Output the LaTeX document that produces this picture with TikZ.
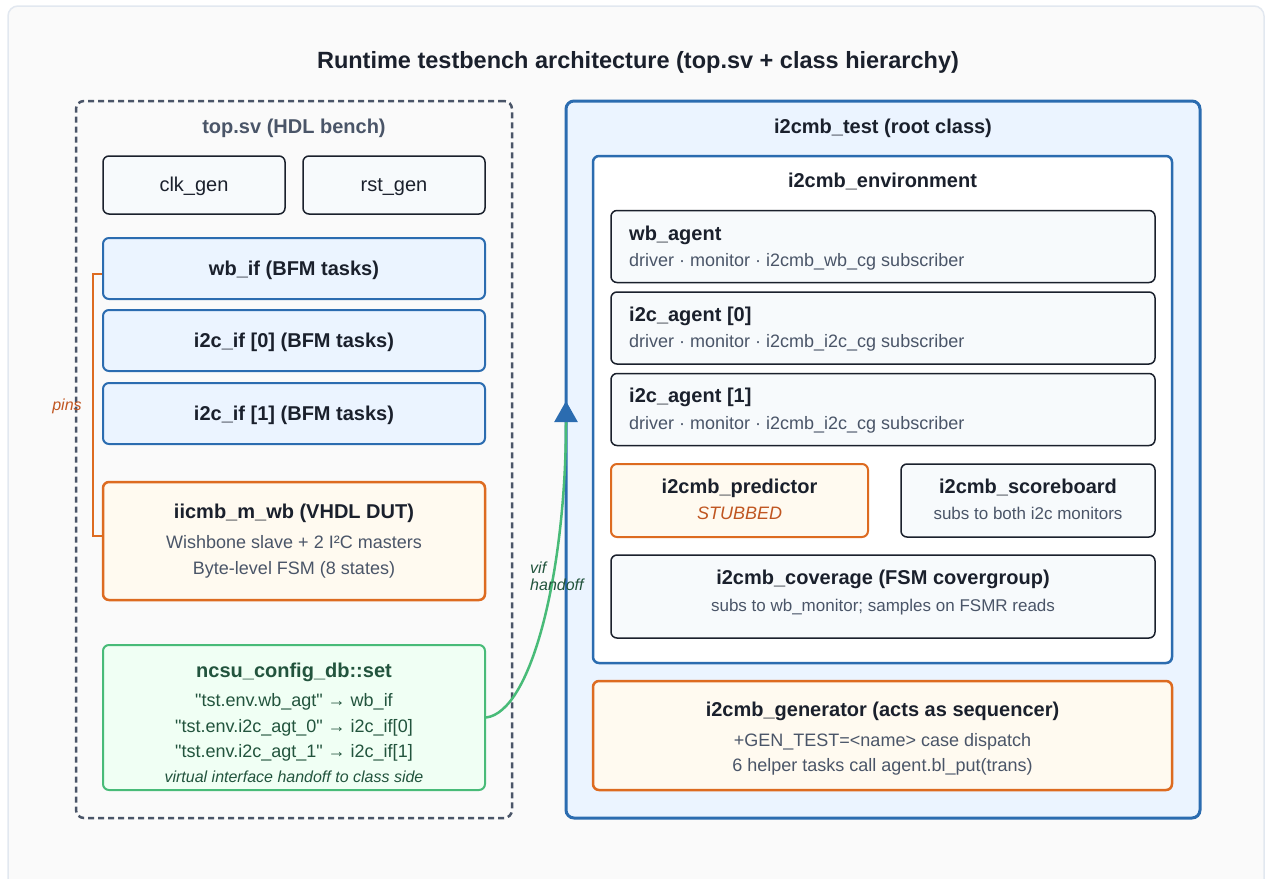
\documentclass[tikz,border=0pt]{standalone}
\usepackage{fontspec}
\setmainfont{Liberation Sans}
\usetikzlibrary{arrows.meta}
\definecolor{tbink}{HTML}{1A202C}
\definecolor{tbgray}{HTML}{4A5568}
\definecolor{tbblue}{HTML}{2B6CB0}
\definecolor{tbbluefill}{HTML}{EBF4FF}
\definecolor{tborange}{HTML}{DD6B20}
\definecolor{tborangefill}{HTML}{FFFAF0}
\definecolor{tbrust}{HTML}{C05621}
\definecolor{tbgreen}{HTML}{48BB78}
\definecolor{tbgreenfill}{HTML}{F0FFF4}
\definecolor{tbforest}{HTML}{22543D}
\definecolor{tbplain}{HTML}{F7FAFC}
\definecolor{tbcard}{HTML}{FAFAFA}
\definecolor{tbedge}{HTML}{E2E8F0}
\begin{document}
\begin{tikzpicture}
  [x=1pt,y=-1pt,every node/.style={inner sep=0pt},
   plainbox/.style={draw=tbink,fill=tbplain,line width=1.5pt,rounded corners=6pt},
   ifbox/.style={draw=tbblue,fill=tbbluefill,line width=2pt,rounded corners=6pt},
   hotbox/.style={draw=tborange,fill=tborangefill,line width=2.5pt,rounded corners=6pt},
   cfgbox/.style={draw=tbgreen,fill=tbgreenfill,line width=2pt,rounded corners=6pt},
   head/.style={font=\fontsize{20}{24}\selectfont\bfseries,text=tbink,text height=16pt,text depth=2.8pt},
   body/.style={font=\fontsize{20}{24}\selectfont,text=tbink,text height=16pt,text depth=2.8pt},
   note/.style={font=\fontsize{18}{22}\selectfont,text=tbgray,text height=14.4pt,text depth=2.5pt},
   small/.style={font=\fontsize{17}{20}\selectfont,text=tbgray,text height=13.6pt,text depth=2.4pt},
   slant/.style={font=\fontsize{16}{17}\selectfont\itshape,text height=12.8pt,text depth=2.2pt}]
  \useasboundingbox (0,0) rectangle (1265,878);
  \fill[white] (0,0) rectangle (1265,878);
  \draw[draw=tbedge,fill=tbcard,line width=1.5pt,rounded corners=10pt] (8,6) rectangle (1264,890);
  \node[font=\fontsize{23.5}{28}\selectfont\bfseries,text=tbink,text height=18.8pt,text depth=3.3pt] (title) at (638,61)
    {Runtime testbench architecture (top.sv + class hierarchy)};

  \node[draw=tbgray,line width=2.5pt,dash pattern=on 6pt off 4pt,rounded corners=8pt,
        minimum width=436pt,minimum height=717pt] (hdl) at (294,459.5) {};
  \node[head,text=tbgray] (hdlname) at (294,127) {top.sv (HDL bench)};
  \node[plainbox,body,minimum width=182pt,minimum height=58pt] (clk) at (194,185) {clk\_gen};
  \node[plainbox,body,minimum width=182pt,minimum height=58pt] (rst) at (394,185) {rst\_gen};
  \node[ifbox,head,minimum width=382pt,minimum height=61pt] (wbif) at (294,268.5) {wb\_if (BFM tasks)};
  \node[ifbox,head,minimum width=382pt,minimum height=61pt] (iicif0) at (294,340.5) {i2c\_if [0] (BFM tasks)};
  \node[ifbox,head,minimum width=382pt,minimum height=61pt] (iicif1) at (294,413.5) {i2c\_if [1] (BFM tasks)};
  \node[hotbox,minimum width=382pt,minimum height=118pt] (dut) at (294,541) {};
  \node[head] (dutname) at (294,512) {iicmb\_m\_wb (VHDL DUT)};
  \node[note] (dutline1) at (294,543) {Wishbone slave + 2 I²C masters};
  \node[note] (dutline2) at (294,569) {Byte-level FSM (8 states)};
  \node[cfgbox,minimum width=382pt,minimum height=145pt] (cfg) at (294,717.5) {};
  \node[head,text=tbforest] (cfgname) at (294,671) {ncsu\_config\_db::set};
  \node[note,text=tbforest] (cfgline1) at (294,701) {\textquotedbl tst.env.wb\_agt\textquotedbl{} → wb\_if};
  \node[note,text=tbforest] (cfgline2) at (294,726.5) {\textquotedbl tst.env.i2c\_agt\_0\textquotedbl{} → i2c\_if[0]};
  \node[note,text=tbforest] (cfgline3) at (294,752) {\textquotedbl tst.env.i2c\_agt\_1\textquotedbl{} → i2c\_if[1]};
  \node[slant,text=tbforest] (cfgnote) at (294,777.5) {virtual interface handoff to class side};

  \node[draw=tbblue,fill=tbbluefill,line width=3pt,rounded corners=8pt,
        minimum width=634pt,minimum height=717pt] (tst) at (883,459.5) {};
  \node[head] (tstname) at (883,127) {i2cmb\_test (root class)};
  \node[draw=tbblue,fill=white,line width=2.5pt,rounded corners=6pt,
        minimum width=579pt,minimum height=507pt] (env) at (882.5,409.5) {};
  \node[head] (envname) at (882.5,181) {i2cmb\_environment};
  \node[plainbox,minimum width=544pt,minimum height=72pt] (wbagt) at (883,246.5) {};
  \node[head,anchor=west] (wbagtname) at (629,233.5) {wb\_agent};
  \node[note,anchor=west] (wbagtsub) at (629,261) {driver · monitor · i2cmb\_wb\_cg subscriber};
  \node[plainbox,minimum width=544pt,minimum height=72pt] (iicagt0) at (883,328) {};
  \node[head,anchor=west] (iicagt0name) at (629,314.5) {i2c\_agent [0]};
  \node[note,anchor=west] (iicagt0sub) at (629,342) {driver · monitor · i2cmb\_i2c\_cg subscriber};
  \node[plainbox,minimum width=544pt,minimum height=72pt] (iicagt1) at (883,409.5) {};
  \node[head,anchor=west] (iicagt1name) at (629,396) {i2c\_agent [1]};
  \node[note,anchor=west] (iicagt1sub) at (629,423.5) {driver · monitor · i2cmb\_i2c\_cg subscriber};
  \node[hotbox,line width=2pt,minimum width=257pt,minimum height=73pt] (pred) at (739.5,500.5) {};
  \node[head] (predname) at (739.5,486.5) {i2cmb\_predictor};
  \node[note,font=\fontsize{18}{22}\selectfont\itshape,text=tbrust] (predsub) at (739.5,514) {STUBBED};
  \node[plainbox,minimum width=254pt,minimum height=73pt] (sb) at (1028,500.5) {};
  \node[head] (sbname) at (1028,486.5) {i2cmb\_scoreboard};
  \node[small] (sbsub) at (1028,514) {subs to both i2c monitors};
  \node[plainbox,minimum width=544pt,minimum height=83pt] (cov) at (883,596.5) {};
  \node[head] (covname) at (883,578) {i2cmb\_coverage (FSM covergroup)};
  \node[small] (covsub) at (883,605.5) {subs to wb\_monitor; samples on FSMR reads};
  \node[hotbox,minimum width=579pt,minimum height=109pt] (gen) at (882.5,735.5) {};
  \node[head] (genname) at (882.5,709.5) {i2cmb\_generator (acts as sequencer)};
  \node[note] (genline1) at (882.5,741) {+GEN\_TEST=<name> case dispatch};
  \node[note] (genline2) at (882.5,766) {6 helper tasks call agent.bl\_put(trans)};

  \draw[tborange,line width=2pt] ([yshift=-5.5pt]wbif.west) -- ++(-9,0) |- ([yshift=5pt]dut.west);
  \node[slant,text=tbrust] (pins) at (67,405) {pins};
  \coordinate (vifend) at (566,401);
  \draw[tbgreen,line width=2.5pt,-{Triangle[length=21pt,width=23pt,color=tbblue]}]
    (cfg.east) .. controls (532,712) and (566,570) .. (vifend);
  \node[slant,text=tbforest,anchor=west] (vif) at (530,568) {vif};
  \node[slant,text=tbforest,anchor=west] (handoff) at (530,585) {handoff};
\end{tikzpicture}
\end{document}
